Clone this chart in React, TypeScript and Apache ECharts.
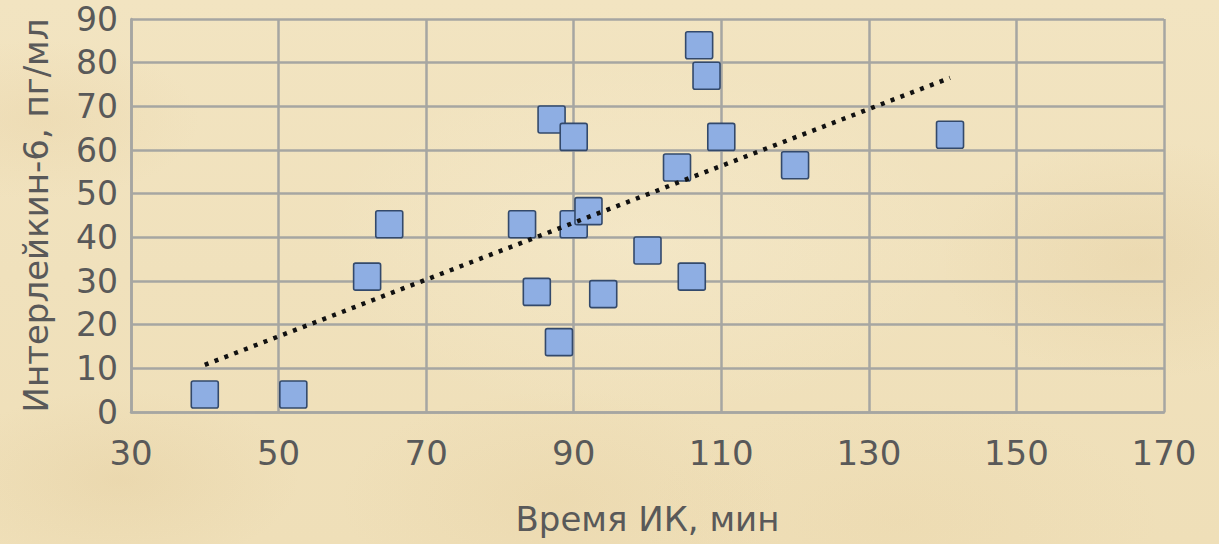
import React, { useEffect, useRef } from "react";
import * as echarts from "echarts";

// Cardiopulmonary bypass time (min) vs. interleukin-6 (pg/ml)
const bypassMinutes = [40, 52, 62, 65, 83, 85, 87, 88, 90, 90, 92, 94, 100, 104, 106, 107, 108, 110, 120, 141];
const il6Values = [4, 4, 31, 43, 43, 27.5, 67, 16, 63, 43, 46, 27, 37, 56, 31, 84, 77, 63, 56.5, 63.5];

const xTicks = [30, 50, 70, 90, 110, 130, 150, 170];
const yTicks = [0, 10, 20, 30, 40, 50, 60, 70, 80, 90];

const xTitle = "Время ИК, мин";
const yTitle = "Интерлейкин-6, пг/мл";

// least-squares linear trend across the observed range
function linearTrend(xs: number[], ys: number[]) {
  const n = xs.length;
  const mx = xs.reduce((a, b) => a + b, 0) / n;
  const my = ys.reduce((a, b) => a + b, 0) / n;
  let sxy = 0;
  let sxx = 0;
  for (let i = 0; i < n; i++) {
    sxy += (xs[i] - mx) * (ys[i] - my);
    sxx += (xs[i] - mx) * (xs[i] - mx);
  }
  const k = sxy / sxx;
  const b = my - k * mx;
  const x0 = Math.min(...xs);
  const x1 = Math.max(...xs);
  return [
    [x0, k * x0 + b],
    [x1, k * x1 + b],
  ];
}

const FONT = "'DejaVu Sans', sans-serif";
const TEXT = "#595959";
const GRID = "#a6a6a2";

// square marker with slightly softened corners
const SQUARE = "path://M2,0H25Q27,0 27,2V25Q27,27 25,27H2Q0,27 0,25V2Q0,0 2,0Z";

const parchment = [
  "radial-gradient(ellipse 180px 90px at 120px 480px, rgba(214,184,128,0.18), transparent)",
  "radial-gradient(ellipse 220px 110px at 560px 500px, rgba(220,190,135,0.16), transparent)",
  "radial-gradient(ellipse 200px 120px at 1140px 260px, rgba(214,184,128,0.18), transparent)",
  "radial-gradient(ellipse 160px 80px at 40px 120px, rgba(222,192,138,0.18), transparent)",
  "radial-gradient(ellipse 260px 120px at 900px 520px, rgba(226,198,144,0.14), transparent)",
  "radial-gradient(ellipse 320px 180px at 640px 240px, rgba(250,242,218,0.30), transparent)",
  "linear-gradient(180deg, #f2e4c1 0%, #f0e1bc 50%, #efdfb8 100%)",
].join(",");

export default function App() {
  const ref = useRef<HTMLDivElement>(null);

  useEffect(() => {
    if (!ref.current) return;
    const chart = echarts.init(ref.current, undefined, { renderer: "svg" });
    const points = bypassMinutes.map((x, i) => [x, il6Values[i]]);
    const trend = linearTrend(bypassMinutes, il6Values);

    chart.setOption({
      animation: false,
      backgroundColor: "transparent",
      grid: { left: 131, right: 55, top: 19, bottom: 132, containLabel: false },
      xAxis: {
        type: "value",
        min: xTicks[0],
        max: xTicks[xTicks.length - 1],
        interval: xTicks[1] - xTicks[0],
        name: xTitle,
        nameLocation: "middle",
        nameGap: 90,
        nameTextStyle: { fontFamily: FONT, fontSize: 34, color: TEXT },
        axisLine: { show: true, lineStyle: { color: GRID, width: 2.5 } },
        axisTick: { show: false },
        axisLabel: { fontFamily: FONT, fontSize: 34, color: TEXT, margin: 24 },
        splitLine: { show: true, lineStyle: { color: GRID, width: 2.5 } },
      },
      yAxis: {
        type: "value",
        min: yTicks[0],
        max: yTicks[yTicks.length - 1],
        interval: yTicks[1] - yTicks[0],
        name: yTitle,
        nameLocation: "middle",
        nameGap: 78,
        nameTextStyle: { fontFamily: FONT, fontSize: 34, color: TEXT },
        axisLine: { show: true, lineStyle: { color: GRID, width: 2.5 } },
        axisTick: { show: false },
        axisLabel: { fontFamily: FONT, fontSize: 33, color: TEXT, margin: 13 },
        splitLine: { show: true, lineStyle: { color: GRID, width: 2.5 } },
      },
      series: [
        {
          type: "line",
          data: trend,
          symbol: "none",
          silent: true,
          lineStyle: { color: "#111", width: 4.5, type: [4, 6.5], cap: "butt" },
          z: 3,
        },
        {
          type: "scatter",
          data: points,
          symbol: SQUARE,
          symbolSize: 27,
          itemStyle: { color: "#8eaee3", borderColor: "#33496b", borderWidth: 1.6, opacity: 1 },
          z: 2,
        },
      ],
    });
    return () => chart.dispose();
  }, []);

  return (
    <div
      style={{
        position: "fixed",
        left: 0,
        top: 0,
        width: 1219,
        height: 544,
        background: parchment,
      }}
    >
      <div ref={ref} style={{ width: 1219, height: 544 }} />
    </div>
  );
}
